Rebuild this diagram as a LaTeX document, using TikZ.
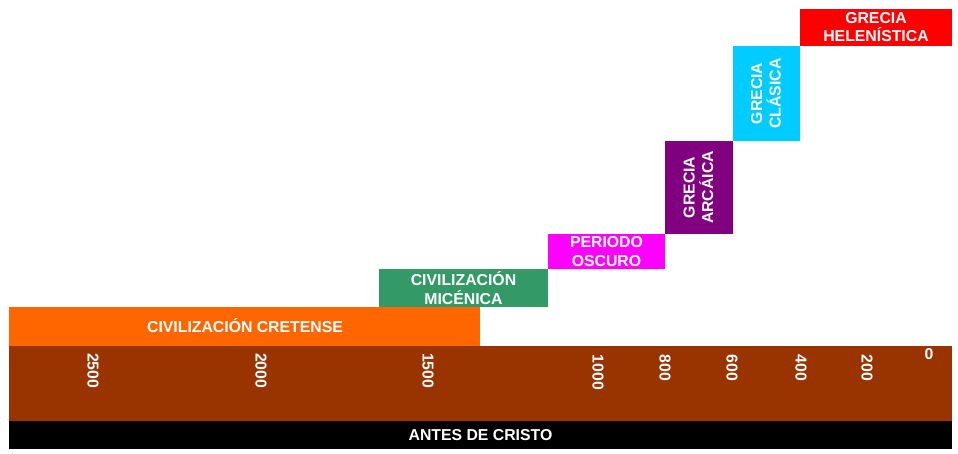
\documentclass[tikz,border=0pt]{standalone}
\usepackage{fontspec}
\setmainfont{Liberation Sans}
\definecolor{cOrange}{HTML}{FF6600}
\definecolor{cBrown}{HTML}{993300}
\definecolor{cGreen}{HTML}{339966}
\definecolor{cMagenta}{HTML}{FF00FF}
\definecolor{cPurple}{HTML}{800080}
\definecolor{cCyan}{HTML}{00CCFF}
\definecolor{cRed}{HTML}{FF0000}
\tikzset{
  lbl/.style={text=white, font=\bfseries\fontsize{15.8}{18.5}\selectfont, align=center, inner sep=0pt},
  yr/.style={text=white, font=\bfseries\fontsize{15.8}{18.5}\selectfont, inner sep=0pt, rotate=-90, anchor=west}
}
\begin{document}
\begin{tikzpicture}[x=1pt,y=-1pt]
\useasboundingbox (0,0) rectangle (958,454);
% bands
\fill[cOrange] (9,307) rectangle (480,346);
\fill[cBrown] (9,346) rectangle (952,421);
\fill[black] (9,421) rectangle (952,449);
\fill[cGreen] (379,269) rectangle (548,307);
\fill[cMagenta] (548,234) rectangle (665,269);
\fill[cPurple] (665,141) rectangle (733,234);
\fill[cCyan] (733,46) rectangle (800,141);
\fill[cRed] (800,9) rectangle (952,46);
% period labels
\node[lbl] (cret) at (245,325.5) {CIVILIZACIÓN CRETENSE};
\node[lbl] (mic) at (463.5,288) {CIVILIZACIÓN\\MICÉNICA};
\node[lbl] (osc) at (606.5,251.5) {PERIODO\\OSCURO};
\node[lbl, rotate=90] (arc) at (698.5,187.5) {GRECIA\\ARCÁICA};
\node[lbl, rotate=90] (cla) at (766,93.5) {GRECIA\\CLÁSICA};
\node[lbl] (hel) at (876,27) {GRECIA\\HELENÍSTICA};
\node[lbl] (adc) at (480.5,435) {ANTES DE CRISTO};
% years
\node[yr] (y2500) at (93,353) {2500};
\node[yr] (y2000) at (261,353) {2000};
\node[yr] (y1500) at (428,353) {1500};
\node[yr] (y1000) at (598,354.5) {1000};
\node[yr] (y800) at (665,354.5) {800};
\node[yr] (y600) at (732,354.5) {600};
\node[yr] (y400) at (801,354.5) {400};
\node[yr] (y200) at (867,354.5) {200};
\node[lbl] (y0) at (929,354) {0};
\end{tikzpicture}
\end{document}
